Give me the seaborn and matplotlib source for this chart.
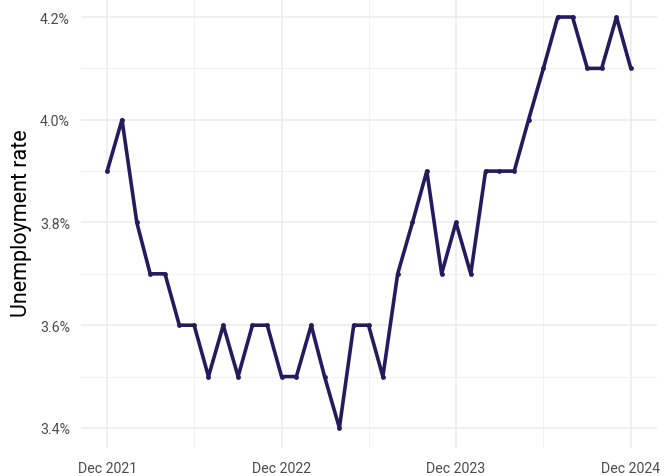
import pandas as pd
import matplotlib.pyplot as plt
import matplotlib.dates as mdates
from matplotlib.ticker import FuncFormatter, MultipleLocator
import seaborn as sns

# === Données : taux de chômage mensuel (déc. 2021 -> déc. 2024) ===
mois = pd.date_range("2021-12-01", "2024-12-01", freq="MS")
taux = [3.9, 4.0, 3.8, 3.7, 3.7, 3.6, 3.6, 3.5, 3.6, 3.5, 3.6, 3.6,
        3.5, 3.5, 3.6, 3.5, 3.4, 3.6, 3.6, 3.5, 3.7, 3.8, 3.9, 3.7,
        3.8, 3.7, 3.9, 3.9, 3.9, 4.0, 4.1, 4.2, 4.2, 4.1, 4.1, 4.2,
        4.1]
ticks_x = pd.to_datetime(["2021-12-01", "2022-12-01", "2023-12-01", "2024-12-01"])
ticks_x_mineurs = pd.to_datetime(["2022-06-01", "2023-06-01", "2024-06-01"])

df = pd.DataFrame({"mois": mois, "taux": taux})

# === Style ===
sns.set_theme(style="white")
plt.rcParams["font.family"] = ["Roboto", "DejaVu Sans"]

couleur = "#231b5e"

fig = plt.figure(figsize=(6.7, 4.77), dpi=100)
ax = fig.add_axes([81 / 670, 0.0577, 576 / 670, 0.9476])

sns.lineplot(data=df, x="mois", y="taux", color=couleur, linewidth=2.6, ax=ax)
sns.scatterplot(data=df, x="mois", y="taux", color=couleur, s=12, linewidth=0, ax=ax, zorder=3)

# axes
debut, fin = mois[0], mois[-1]
marge = (fin - debut) * 0.05
ax.set_xlim(debut - marge, fin + marge)
ax.set_ylim(3.36, 4.24)

ax.set_xticks(ticks_x)
ax.set_xticks(ticks_x_mineurs, minor=True)
ax.xaxis.set_major_formatter(mdates.DateFormatter("%b %Y"))
ax.yaxis.set_major_locator(MultipleLocator(0.2))
ax.yaxis.set_minor_locator(MultipleLocator(0.1))
ax.yaxis.set_major_formatter(FuncFormatter(lambda v, p: f"{v:.1f}%"))

ax.grid(which="major", color="#ebebeb", linewidth=1.1)
ax.grid(which="minor", color="#efefef", linewidth=0.6)
ax.set_axisbelow(True)
for s in ax.spines.values():
    s.set_visible(False)
ax.tick_params(which="both", length=0, labelsize=10.2, colors="#4d4d4d")
ax.tick_params(axis="x", pad=9)
ax.tick_params(axis="y", pad=8)

ax.set_xlabel("")
ax.set_ylabel("Unemployment rate", fontsize=15.5, color="black", labelpad=6)

plt.savefig("out.png", dpi=100)
plt.close()
